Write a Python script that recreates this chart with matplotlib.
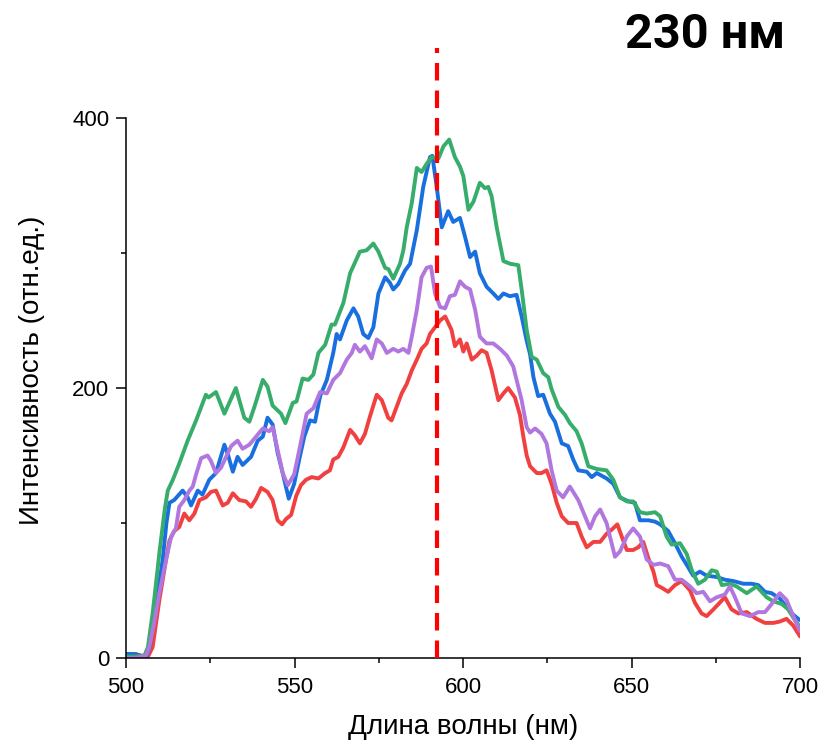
import matplotlib
matplotlib.use("Agg")
import matplotlib.pyplot as plt
from matplotlib.ticker import MultipleLocator

# ---- data ----
green_x = [500, 503, 505.5, 506.5, 508, 510, 511.5, 512.4, 513.9, 515.8, 518.3, 520.8, 523.7, 524.5, 526.7,
           529.2, 532.6, 535.1, 536.6, 538.1, 540.6, 542.0, 543.5, 546.0, 547.3, 549.5, 550.6, 552.4, 554.1,
           555.6, 557.1, 559.1, 561.0, 562.0, 564.5, 566.5, 569.4, 571.4, 573.4, 574.9, 576.9, 577.9, 579.3,
           581.3, 582.3, 583.3, 584.8, 586.3, 587.7, 589.2, 590.7, 592.7, 594.2, 595.9, 597.6, 599.1, 600.1,
           601.6, 603.1, 605.0, 606.5, 607.5, 608.5, 610.0, 612.0, 614.0, 616.4, 617.4, 618.9, 620.4, 621.9,
           623.8, 625.3, 626.3, 628.3, 630.3, 631.7, 633.7, 635.2, 637.2, 639.7, 642.6, 644.6, 646.6, 648.6,
           650.5, 652.5, 654.5, 657.0, 658.5, 660.4, 661.9, 664.4, 666.4, 667.9, 669.8, 671.8, 673.8, 675.3,
           676.8, 679.2, 681.2, 684.2, 687.1, 690.1, 692.1, 694.6, 696.5, 698.5, 700]
green_y = [1, 1, 2, 8, 35, 80, 110, 124, 132, 144, 161, 176, 195, 193, 197,
           181, 200, 178, 175, 186, 206, 201, 187, 181, 174, 189, 190, 207, 206,
           210, 226, 232, 247, 247, 263, 285, 301, 302, 307, 301, 289, 288, 281,
           292, 302, 319, 337, 363, 360, 366, 371, 370, 379, 384, 371, 364, 357,
           332, 338, 352, 348, 349, 342, 319, 294, 292, 291, 273, 243, 223, 221,
           211, 208, 199, 186, 180, 174, 168, 159, 142, 140, 139, 132, 119, 116,
           116, 108, 107, 108, 105, 90, 84, 85, 77, 65, 55, 58, 65, 64,
           54, 55, 53, 48, 53, 45, 42, 40, 36, 28, 23]

blue_x = [500, 502, 504, 506, 507, 507.9, 509.5, 510.9, 512, 512.9, 514.3, 516.8, 518.3, 519.3, 521.3,
          522.7, 524.7, 526.7, 529.2, 530.2, 531.7, 533.1, 534.6, 537.1, 539.1, 540.6, 542.0, 543.5, 545.0,
          546.5, 548.3, 549.9, 551.4, 552.9, 554.6, 556.1, 557.6, 559.6, 561.5, 562.5, 563.5, 565.5, 567.5,
          568.9, 570.4, 571.9, 573.4, 574.9, 576.9, 578.3, 579.3, 580.8, 582.8, 584.3, 586.3, 588.2, 590.2,
          590.9, 592.2, 593.7, 595.6, 597.1, 599.1, 600.6, 602.1, 603.6, 605.0, 607.0, 609.0, 610.5, 612.0,
          613.9, 615.9, 617.4, 618.9, 619.9, 620.9, 622.3, 623.8, 625.8, 627.3, 629.3, 631.2, 632.7, 634.2,
          636.7, 638.2, 639.7, 642.6, 644.6, 646.6, 649.1, 651.0, 652.5, 655.0, 657.0, 658.5, 660.9, 662.9,
          664.9, 666.4, 668.3, 670.3, 672.3, 675.3, 677.7, 680.2, 683.2, 685.7, 687.6, 689.6, 691.6, 694.0,
          696.0, 698.0, 700]
blue_y = [3, 3, 2, 1, 8, 23, 50, 73, 100, 115, 117, 124, 119, 113, 124,
          121, 132, 137, 158, 151, 138, 149, 143, 149, 161, 164, 178, 173, 152,
          137, 118, 129, 147, 164, 176, 175, 194, 206, 226, 240, 236, 250, 259,
          253, 240, 237, 245, 270, 282, 278, 273, 277, 287, 292, 317, 349, 371,
          372, 349, 319, 331, 323, 326, 312, 297, 301, 285, 275, 270, 266, 270,
          268, 269, 253, 235, 225, 208, 194, 195, 181, 175, 159, 157, 147, 139,
          138, 134, 137, 133, 129, 119, 116, 115, 102, 102, 101, 99, 94, 85,
          75, 69, 61, 64, 61, 60, 58, 57, 55, 55, 54, 49, 48, 44,
          38, 32, 28]

purple_x = [500, 503, 506, 506.9, 508.5, 509.9, 511.9, 513.4, 514.8, 515.8, 517.3, 518.8, 519.8, 520.8,
            522.3, 524.2, 525.2, 526.7, 528.2, 529.7, 531.2, 533.1, 534.6, 536.6, 538.6, 540.6, 542.5, 543.5,
            545.0, 546.5, 548.0, 549.9, 551.5, 553.6, 555.6, 557.6, 559.6, 561.5, 563.5, 565.5, 567.0, 567.9,
            569.4, 570.9, 572.9, 574.4, 575.9, 577.4, 579.3, 580.8, 582.3, 583.8, 584.8, 586.3, 587.7, 589.2,
            590.5, 591.7, 593.2, 594.7, 596.1, 597.6, 599.1, 600.6, 602.1, 603.6, 605.0, 607.0, 609.0, 611.0,
            613.0, 614.9, 615.9, 617.4, 618.9, 619.9, 621.4, 623.3, 624.8, 626.3, 627.8, 629.7, 631.7, 634.2,
            636.2, 637.7, 639.2, 640.7, 642.6, 645.1, 646.6, 648.6, 650.5, 652.5, 654.5, 656.5, 658.5, 660.9,
            662.9, 664.9, 667.4, 669.3, 671.3, 673.3, 675.3, 677.7, 679.2, 680.7, 682.7, 685.2, 687.6, 689.6,
            691.6, 694.0, 696.0, 698.0, 700]
purple_y = [0, 0, 2, 8, 28, 48, 73, 90, 96, 112, 117, 124, 127, 136,
            148, 150, 146, 137, 141, 149, 157, 161, 155, 158, 164, 170, 168, 171,
            154, 137, 128, 136, 155, 181, 185, 197, 196, 206, 211, 221, 226, 232,
            227, 231, 222, 236, 233, 226, 229, 227, 229, 226, 238, 258, 282, 289,
            290, 270, 260, 259, 268, 269, 279, 275, 273, 258, 238, 233, 233, 229,
            224, 216, 206, 191, 171, 167, 170, 166, 159, 139, 124, 119, 127, 117,
            105, 96, 105, 110, 100, 75, 79, 90, 96, 90, 73, 69, 70, 68,
            58, 58, 53, 48, 49, 42, 45, 47, 53, 45, 33, 31, 34, 34,
            40, 48, 43, 31, 20]

red_x = [500, 503, 505, 506.5, 507.9, 509.9, 511.9, 512.9, 514.3, 515.8, 517.3, 518.8, 520.3, 521.8,
         523.7, 525.2, 526.7, 528.7, 530.2, 531.7, 533.6, 535.6, 537.1, 538.6, 540.1, 542.0, 543.5, 545.0,
         546.3, 547.5, 549.0, 550.5, 551.9, 553.4, 555.1, 557.1, 559.1, 560.5, 561.5, 563.0, 564.5, 566.5,
         567.9, 569.4, 570.9, 572.4, 574.4, 575.9, 577.8, 578.8, 580.3, 581.8, 583.3, 584.8, 586.3, 587.7,
         589.2, 590.2, 591.7, 593.2, 594.7, 596.6, 597.6, 599.1, 600.1, 601.1, 602.6, 604.1, 605.5, 607.0,
         608.5, 610.5, 612.0, 613.4, 615.4, 616.9, 617.9, 618.9, 619.9, 621.9, 623.3, 624.8, 626.3, 627.8,
         629.3, 631.2, 633.7, 635.2, 636.7, 638.7, 640.7, 642.6, 644.1, 645.8, 647.1, 648.6, 650.5, 652.0,
         653.5, 655.0, 656.5, 657.5, 659.0, 660.9, 662.9, 664.9, 667.4, 668.8, 670.8, 672.3, 674.3, 676.2,
         677.7, 679.7, 681.7, 684.2, 687.1, 689.6, 692.1, 694.0, 696.0, 698.0, 700]
red_y = [3, 3, 1, 1, 8, 43, 73, 87, 94, 97, 107, 102, 107, 117,
         119, 123, 124, 113, 115, 122, 117, 116, 112, 118, 126, 123, 117, 102,
         99, 103, 106, 120, 128, 132, 134, 133, 137, 139, 147, 149, 156, 169,
         165, 159, 166, 179, 195, 191, 178, 176, 186, 196, 203, 213, 221, 229,
         233, 240, 245, 250, 253, 243, 231, 236, 227, 233, 221, 224, 228, 226,
         213, 191, 196, 200, 193, 180, 164, 150, 142, 137, 137, 139, 129, 115,
         105, 100, 100, 90, 82, 86, 86, 92, 95, 99, 90, 80, 80, 82,
         86, 74, 64, 54, 52, 49, 54, 57, 50, 41, 33, 31, 36, 41,
         45, 36, 33, 34, 29, 26, 26, 27, 29, 24, 16]

marker_x = 592.3
marker_top = 452

x_ticks = [500, 550, 600, 650, 700]
y_ticks = [0, 200, 400]

title_text = "230 нм"
x_label = "Длина волны (нм)"
y_label = "Интенсивность (отн.ед.)"

# ---- figure ----
plt.rcParams['font.family'] = ['Liberation Sans', 'DejaVu Sans']

fig = plt.figure(figsize=(8.23, 7.45), dpi=100)
ax = fig.add_axes([126 / 823, 1 - 658 / 745, 674 / 823, 540 / 745])

lw = 2.8
kw = dict(lw=lw, solid_joinstyle='round', solid_capstyle='round')
ax.plot(red_x, red_y, color='#F14040', **kw)
ax.plot(blue_x, blue_y, color='#1A6FDF', **kw)
ax.plot(green_x, green_y, color='#37AD6B', **kw)
ax.plot(purple_x, purple_y, color='#B177DE', **kw)

ax.plot([marker_x, marker_x], [0, marker_top], color='#FF0000', lw=3,
        dashes=(4.2, 2.4), clip_on=False, zorder=5)

ax.set_xlim(500, 700)
ax.set_ylim(0, 400)
ax.set_xticks(x_ticks)
ax.set_yticks(y_ticks)
ax.xaxis.set_minor_locator(MultipleLocator(25))
ax.yaxis.set_minor_locator(MultipleLocator(100))

for s in ['top', 'right']:
    ax.spines[s].set_visible(False)
for s in ['left', 'bottom']:
    ax.spines[s].set_linewidth(1.1)

ax.tick_params(which='major', direction='out', length=7, width=1.1, labelsize=16, pad=5)
ax.tick_params(which='minor', direction='out', length=3.8, width=1.1)
ax.tick_params(axis='x', which='major', pad=7)

fig.text(785 / 823, 1 - 48 / 745, title_text, ha='right', va='baseline',
         fontsize=35, fontweight='bold', family=['Roboto', 'DejaVu Sans'])
fig.text(463 / 823, 1 - 727 / 745, x_label, ha='center', va='center', fontsize=20)
fig.text(32 / 823, 1 - 370 / 745, y_label, ha='center', va='center', fontsize=20, rotation=90)

fig.savefig('out.png', dpi=100)
